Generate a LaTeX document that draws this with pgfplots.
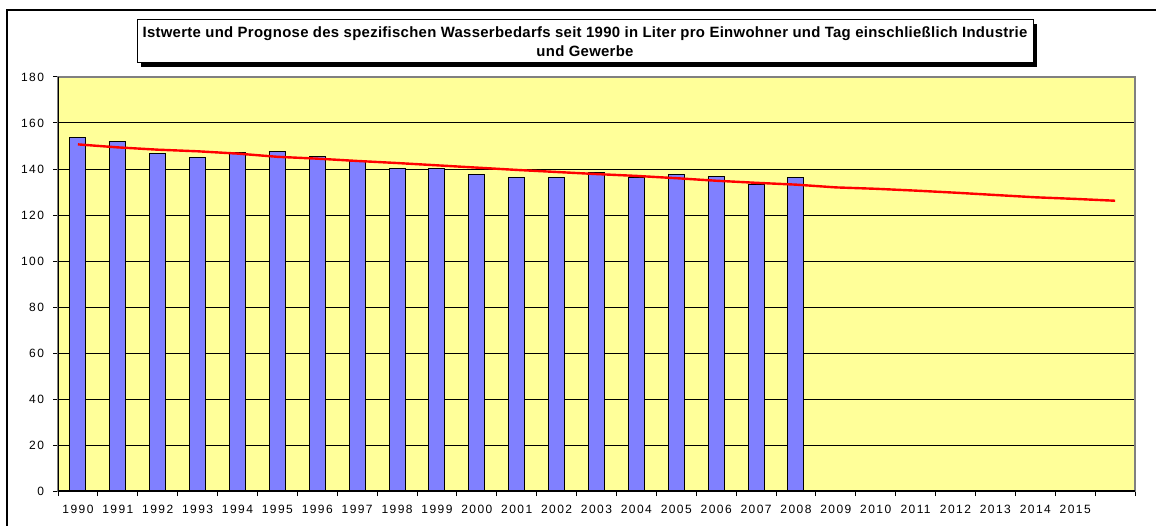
\documentclass[border=0pt]{standalone}
\usepackage{pgfplots}
\pgfplotsset{compat=1.18}
\usepackage{fontspec}
\setmainfont{Liberation Sans}
\newfontfamily\tickfont[LetterSpace=12]{Liberation Sans}
\newfontfamily\titlefont[LetterSpace=2]{Liberation Sans}
\definecolor{bgyellow}{HTML}{FFFF99}
\definecolor{barblue}{HTML}{8080FF}
\definecolor{framegray}{HTML}{808080}
\begin{document}
\begin{tikzpicture}[x=0.5pt,y=0.5pt]
\useasboundingbox (0,0) rectangle (1156,525);
% outer chart frame (left and top visible)
\draw[black, line width=0.8pt] (7,-5) -- (7,515) -- (1170,515);
% title box with shadow
\fill[black] (141,462-4) rectangle (1037,505-4);
\draw[black, line width=0.5pt, fill=white] (137,462) rectangle (1033,505);
\node[align=center, font=\titlefont\bfseries\fontsize{7.45}{9.5}\selectfont] at (585,483.5)
  {Istwerte und Prognose des spezifischen Wasserbedarfs seit 1990 in Liter pro Einwohner und Tag einschließlich Industrie\\und Gewerbe};
\begin{axis}[
  at={(29pt,17pt)}, anchor=south west,
  scale only axis, width=538.5pt, height=207pt,
  xmin=0, xmax=27, ymin=0, ymax=180,
  ytick={0,20,...,180},
  xtick={0,...,27},
  x tick label as interval,
  xticklabels={1990,1991,1992,1993,1994,1995,1996,1997,1998,1999,2000,2001,2002,2003,2004,2005,2006,2007,2008,2009,2010,2011,2012,2013,2014,2015,{}},
  ymajorgrids,
  grid style={black, line width=0.5pt},
  axis background/.style={fill=bgyellow},
  axis line style={framegray, line width=0.6pt},
  tick align=outside,
  xtick pos=bottom, ytick pos=left,
  major tick length=2.5pt,
  tick style={black, line width=0.5pt},
  /pgf/number format/assume math mode=true,
  ticklabel style={font=\tickfont\fontsize{6}{7}\selectfont},
  yticklabel style={xshift=-1pt},
  xticklabel style={yshift=-1pt},
]
\addplot[ybar, bar width=8pt, fill=barblue, draw=black, line width=0.5pt] coordinates {
(0.5,153.8) (1.5,152.0) (2.5,146.7) (3.5,144.9) (4.5,147.3) (5.5,147.5) (6.5,145.3) (7.5,143.6) (8.5,140.4) (9.5,140.4)
(10.5,137.8) (11.5,136.4) (12.5,136.4) (13.5,138.4) (14.5,136.1) (15.5,137.8) (16.5,136.8) (17.5,133.3) (18.5,136.4)
};
\addplot[red, line width=1.2pt, sharp plot, mark=none] coordinates {
(0.5,150.7) (1.5,149.4) (2.5,148.4) (3.5,147.7) (4.5,146.7) (5.5,145.3) (6.5,144.5) (7.5,143.5) (8.5,142.6) (9.5,141.6)
(10.5,140.6) (11.5,139.6) (12.5,138.7) (13.5,137.8) (14.5,137.0) (15.5,136.0) (16.5,134.9) (17.5,134.0) (18.5,133.2) (19.5,132.0)
(20.5,131.4) (21.5,130.6) (22.5,129.7) (23.5,128.7) (24.5,127.7) (25.5,127.0) (26.5,126.2)
};
\draw[black, line width=0.6pt] (rel axis cs:0,1) -- (rel axis cs:0,0) -- (rel axis cs:1,0);
\end{axis}
\end{tikzpicture}
\end{document}
